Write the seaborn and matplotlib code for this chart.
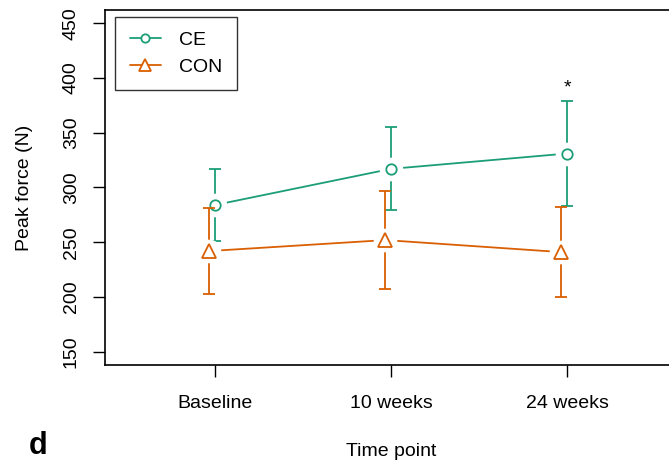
import numpy as np
import pandas as pd
import seaborn as sns
import matplotlib.pyplot as plt
from matplotlib.lines import Line2D

# peak force, mean +/- SD
timepoints = ['Baseline', '10 weeks', '24 weeks']
ce_mean = [284, 317, 331]
ce_sd = [33, 38, 48]
con_mean = [242, 252, 241]
con_sd = [39, 45, 41]
groups = ['CE', 'CON']

green = '#1B9E77'
orange = '#D95F02'

sns.set_style('ticks')
plt.rcParams['font.family'] = ['Liberation Sans', 'DejaVu Sans']
plt.rcParams['text.color'] = 'black'
plt.rcParams['axes.labelcolor'] = 'black'
plt.rcParams['xtick.color'] = 'black'
plt.rcParams['ytick.color'] = 'black'

x = np.arange(1, len(timepoints) + 1)
df = pd.concat([
    pd.DataFrame({'x': x, 'force': ce_mean, 'sd': ce_sd, 'group': 'CE'}),
    pd.DataFrame({'x': x - 0.032, 'force': con_mean, 'sd': con_sd, 'group': 'CON'}),
])

fig = plt.figure(figsize=(6.69, 4.61), dpi=100)
ax = fig.add_axes([0.157, 0.2083, 0.855, 0.770])

pal = {'CE': green, 'CON': orange}
marks = {'CE': 'o', 'CON': '^'}
msize = {'CE': 7.5, 'CON': 9.5}

# CE drawn first, CON on top (like the R plot)
for i, g in enumerate(groups):
    d = df[df['group'] == g]
    z = 2 + 4 * i
    ax.errorbar(d['x'], d['force'], yerr=d['sd'], fmt='none', ecolor=pal[g],
                elinewidth=1.3, capsize=4, capthick=1.3, zorder=z)
    sns.lineplot(data=d, x='x', y='force', color=pal[g], linewidth=1.3,
                 legend=False, ax=ax, zorder=z + 1)
    # white halo gives the R type="b" gaps around points
    ax.plot(d['x'], d['force'], ls='none', marker='o', ms=17, mfc='white',
            mec='none', zorder=z + 2)
    ax.plot(d['x'], d['force'], ls='none', marker=marks[g], ms=msize[g],
            mfc='white', mec=pal[g], mew=1.3, zorder=z + 3)

ce_row = df[df['group'] == 'CE'].iloc[-1]
ax.text(ce_row['x'], 391, '*', ha='center', va='center', fontsize=14)

ax.set_xlim(0.375, 3.625)
ax.set_ylim(138, 462)
ax.set_xticks(x)
ax.set_xticklabels(timepoints)
ax.set_yticks(range(150, 451, 50))
ax.tick_params(axis='y', labelrotation=90, length=8.6, width=1, pad=9.5, labelsize=14)
ax.tick_params(axis='x', length=8.6, width=1, pad=13, labelsize=14)
for lab in ax.get_yticklabels():
    lab.set_va('center')
for s in ax.spines.values():
    s.set_linewidth(1.2)
    s.set_color('black')

ax.set_xlabel('Time point', fontsize=14)
ax.set_ylabel('Peak force (N)', fontsize=14)
ax.xaxis.set_label_coords(0.5, -0.22)
ax.yaxis.set_label_coords(-0.126, 0.5)

lsize = {'CE': 6, 'CON': 8}
handles = [Line2D([], [], color=pal[g], marker=marks[g], ms=lsize[g], mfc='white',
                  mew=1.3, lw=1.3) for g in groups]
leg = ax.legend(handles, groups, loc='upper left', bbox_to_anchor=(0.018, 0.98),
                fontsize=14, frameon=True, fancybox=False, handlelength=1.6,
                borderpad=0.75, labelspacing=0.45, handletextpad=0.95,
                borderaxespad=0.0)
leg.get_frame().set_edgecolor('black')
leg.get_frame().set_linewidth(1.0)

fig.text(0.057, 0.0, 'd', fontsize=22, fontweight='bold', ha='center', va='bottom')

fig.savefig('out.png', dpi=100)
